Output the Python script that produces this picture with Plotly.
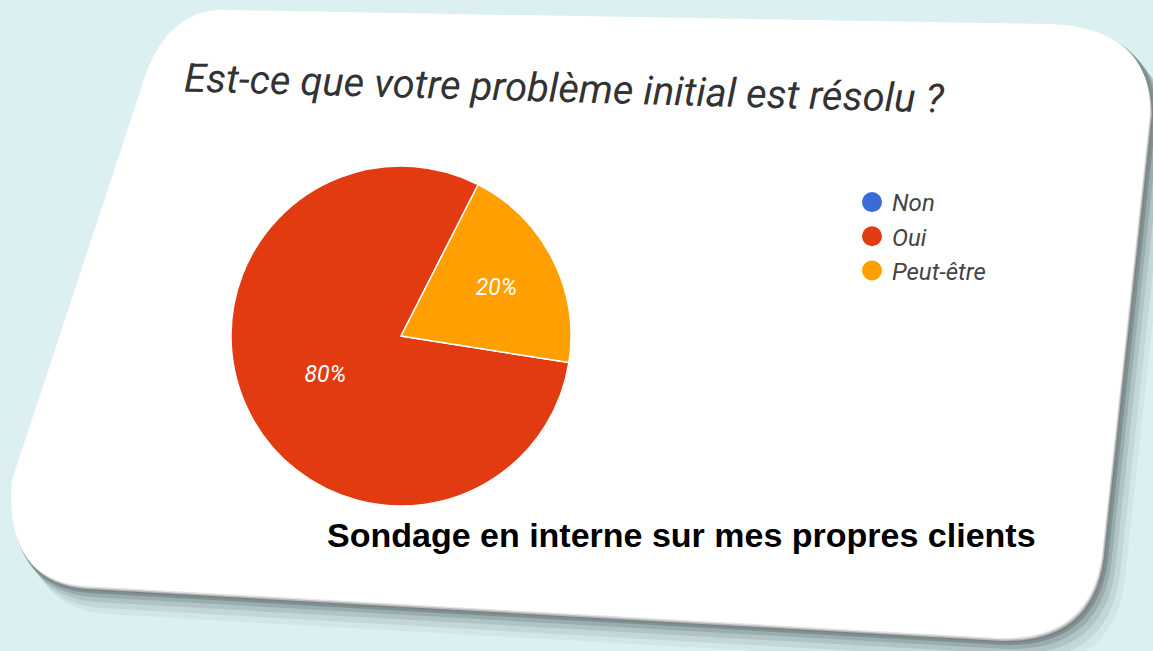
import plotly.graph_objects as go

W, H = 1153, 651

categories = ["Non", "Oui", "Peut-être"]
values = [0, 80, 20]
slice_text = ["", "80%", "20%"]
colors = ["#3a6cd6", "#e23b12", "#ff9f00"]

title_text = "Est-ce que votre problème initial est résolu ?"
subtitle_text = "Sondage en interne sur mes propres clients"


def P(x, y):
    return f"{x / W:.5f},{1 - y / H:.5f}"


def card_path(dx=0.0, dy=0.0, grow=0.0):
    pts = {
        "a": (220 + dx, 10 + dy - grow), "b": (1050 + dx, 24 + dy - grow),
        "c1": (1150 + dx + grow, 28 + dy - grow), "c": (1150 + dx + grow, 112 + dy),
        "d": (1103 + dx + grow, 545 + dy), "e1": (1096 + dx + grow, 640 + dy + grow),
        "e": (1000 + dx, 638 + dy + grow), "f": (85 + dx, 586 + dy + grow),
        "g1": (4 + dx - grow, 580 + dy + grow), "g": (12 + dx - grow, 480 + dy),
        "h": (140 + dx - grow, 92 + dy), "h1": (162 + dx - grow, 12 + dy - grow),
    }
    return (f"M {P(*pts['a'])} L {P(*pts['b'])} Q {P(*pts['c1'])} {P(*pts['c'])} "
            f"L {P(*pts['d'])} Q {P(*pts['e1'])} {P(*pts['e'])} L {P(*pts['f'])} "
            f"Q {P(*pts['g1'])} {P(*pts['g'])} L {P(*pts['h'])} Q {P(*pts['h1'])} {P(*pts['a'])} Z")


shapes = []
# soft shadow layers
for off, op in [(26, 0.08), (20, 0.12), (14, 0.18), (9, 0.28), (5, 0.45)]:
    shapes.append(dict(type="path", xref="paper", yref="paper",
                       path=card_path(off * 0.8, off, 2), fillcolor=f"rgba(95,110,112,{op})",
                       line=dict(width=0), layer="below"))
shapes.append(dict(type="path", xref="paper", yref="paper", path=card_path(3, 4.5),
                   fillcolor="#7d8283", line=dict(width=0), layer="below"))
shapes.append(dict(type="path", xref="paper", yref="paper", path=card_path(1.8, 3),
                   fillcolor="#b4b8b9", line=dict(width=0), layer="below"))
shapes.append(dict(type="path", xref="paper", yref="paper", path=card_path(0.8, 1.5),
                   fillcolor="#e2e4e5", line=dict(width=0), layer="below"))
shapes.append(dict(type="path", xref="paper", yref="paper", path=card_path(),
                   fillcolor="#ffffff", line=dict(width=0), layer="below"))

fig = go.Figure()

cx, cy, r = 401, 336, 170
fig.add_trace(go.Pie(
    labels=categories, values=values, text=slice_text, textinfo="text",
    sort=False, direction="clockwise", rotation=99,
    marker=dict(colors=colors, line=dict(color="#ffffff", width=1.5)),
    textposition="inside", insidetextorientation="horizontal",
    textfont=dict(family="Roboto", size=23, color="#ffffff", style="italic"),
    domain=dict(x=[(cx - r) / W, (cx + r) / W], y=[1 - (cy + r) / H, 1 - (cy - r) / H]),
    showlegend=False, hoverinfo="label+percent",
))

for cat, col in zip(categories, colors):
    fig.add_trace(go.Scatter(
        x=[None], y=[None], mode="markers", name=cat, legendgroup=cat,
        marker=dict(symbol="circle", size=16, color=col, line=dict(color=col, width=4)),
    ))

fig.add_annotation(text=title_text, xref="paper", yref="paper",
                   x=564 / W, y=1 - 88 / H, xanchor="center", yanchor="middle",
                   showarrow=False, textangle=1.6,
                   font=dict(family="Roboto", size=40, color="#333333", style="italic"))
fig.add_annotation(text=f"<b>{subtitle_text}</b>", xref="paper", yref="paper",
                   x=681 / W, y=1 - 535 / H, xanchor="center", yanchor="middle",
                   showarrow=False,
                   font=dict(family="Liberation Sans", size=34, color="#000000"))

fig.update_layout(
    width=W, height=H, margin=dict(l=0, r=0, t=0, b=0),
    paper_bgcolor="#dcf0f2", plot_bgcolor="rgba(0,0,0,0)",
    shapes=shapes,
    xaxis=dict(visible=False), yaxis=dict(visible=False),
    legend=dict(x=852 / W, y=1 - 180 / H, xanchor="left", yanchor="top",
                bgcolor="rgba(0,0,0,0)", tracegroupgap=0, itemsizing="trace",
                font=dict(family="Roboto", size=24, color="#444444", style="italic")),
)

fig.write_html("out.html")
